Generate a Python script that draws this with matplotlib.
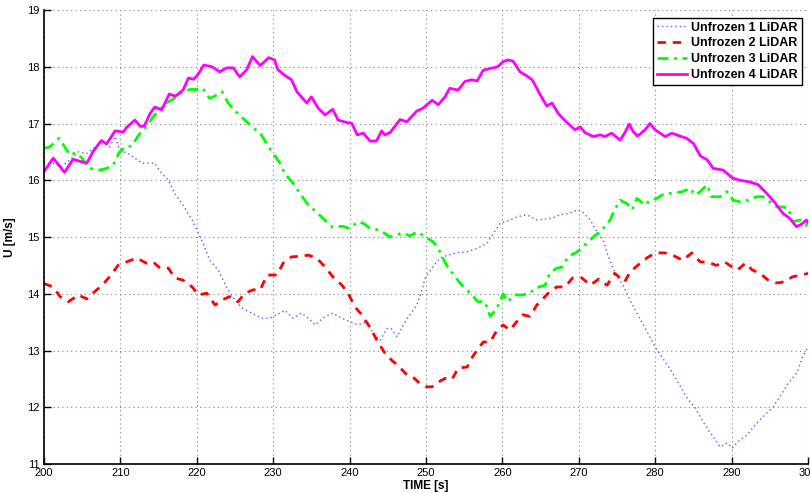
import matplotlib
matplotlib.use("Agg")
import matplotlib.pyplot as plt

plt.rcParams['font.family'] = ['Liberation Sans', 'DejaVu Sans']

# Unfrozen 1 LiDAR (blue, dotted)
t1 = [200, 201.2, 202.3, 203.4, 204.5, 205.6, 206.7, 207.8, 208.6, 209.3, 209.9, 211, 211.9, 212.8,
      213.9, 214.5, 215.4, 216.3, 217.1, 218.2, 219.4, 220.2, 220.8, 221.7, 222.8, 223.9, 224.8,
      225.9, 227.2, 228.5, 229.6, 230.5, 231.5, 232.6, 233.7, 234.6, 235.5, 236.5, 237.8, 239, 240,
      241.1, 242.3, 243.1, 244, 244.9, 245.5, 246.2, 247, 247.9, 248.8, 249.5, 249.9, 250.9, 251.8,
      252.9, 254, 255.4, 256.7, 258, 259.7, 261, 262, 263.2, 264.5, 266.5, 267.5, 268.8, 269.9,
      270.5, 271.5, 272.4, 273.2, 273.8, 274.7, 275.8, 276.7, 277.6, 278.7, 280, 281.3, 282.3,
      283.2, 284.1, 285.2, 285.9, 286.8, 287.6, 288.5, 289.4, 290.1, 290.8, 292, 293.1, 294.1,
      295.4, 296.3, 297.4, 298.6, 299.3, 300]
u1 = [16.3, 16.3, 16.24, 16.36, 16.5, 16.47, 16.59, 16.65, 16.59, 16.77, 16.53, 16.47, 16.39, 16.3,
      16.3, 16.3, 16.12, 16.0, 15.77, 15.56, 15.3, 15.07, 14.9, 14.59, 14.42, 14.12, 13.92,
      13.75, 13.66, 13.57, 13.57, 13.63, 13.71, 13.57, 13.66, 13.57, 13.45, 13.57, 13.66, 13.57, 13.51,
      13.45, 13.51, 13.3, 13.18, 13.39, 13.38, 13.24, 13.45, 13.63, 13.8, 14.07, 14.28, 14.47, 14.63,
      14.68, 14.72, 14.74, 14.8, 14.89, 15.24, 15.3, 15.36, 15.39, 15.3, 15.33, 15.39, 15.42, 15.48,
      15.44, 15.3, 15.09, 14.95, 14.68, 14.38, 14.15, 13.89, 13.66, 13.39, 13.06, 12.8, 12.6,
      12.39, 12.18, 12.0, 11.83, 11.63, 11.48, 11.3, 11.37, 11.28, 11.39, 11.51, 11.69, 11.83,
      12.0, 12.18, 12.42, 12.62, 12.89, 13.06]

# Unfrozen 2 LiDAR (red, dashed)
t2 = [200, 201.2, 202.1, 203.2, 204.5, 205.6, 206.4, 207.6, 208.6, 209.7, 210.8, 212.1, 213.4, 214.3,
      215.2, 216.3, 217.1, 218.2, 219.4, 220.2, 221.3, 222.4, 223.3, 224.3, 225.4, 226.3, 227.4,
      228.3, 229.2, 230.5, 231.3, 232.4, 233.5, 234.6, 235.7, 236.8, 237.8, 239, 239.8, 240.7,
      241.6, 242.7, 243.7, 244.6, 245.5, 246.3, 247.5, 248.3, 249.2, 250.1, 250.8, 251.6, 252.5,
      253.4, 254.2, 255.4, 256, 256.7, 257.5, 258.4, 259.3, 260.1, 261, 261.9, 262.7, 263.6, 264.5,
      266, 267.1, 268.2, 269.2, 270.4, 271.5, 272.6, 273.7, 274.7, 276, 276.7, 277.7, 278.9, 280,
      281.3, 282.3, 283.6, 284.8, 285.9, 286.9, 288, 289.1, 290.1, 290.8, 291.8, 292.7, 293.7,
      294.8, 295.9, 296.9, 298, 299.2, 300]
u2 = [14.18, 14.12, 13.95, 13.86, 13.98, 13.91, 14.01, 14.15, 14.3, 14.5, 14.56, 14.63, 14.54, 14.56,
      14.45, 14.45, 14.28, 14.24, 14.12, 13.98, 14.01, 13.8, 13.89, 13.95, 13.86, 14.01, 14.07,
      14.07, 14.33, 14.33, 14.54, 14.65, 14.66, 14.68, 14.63, 14.47, 14.3, 14.15, 14.01, 13.77,
      13.63, 13.4, 13.15, 12.96, 12.83, 12.74, 12.57, 12.53, 12.42, 12.36, 12.36, 12.44, 12.51,
      12.49, 12.69, 12.71, 12.87, 13.01, 13.15, 13.15, 13.36, 13.45, 13.36, 13.51, 13.63, 13.6, 13.8,
      14.01, 14.12, 14.12, 14.28, 14.28, 14.15, 14.26, 14.15, 14.36, 14.21, 14.38, 14.5, 14.63, 14.72,
      14.72, 14.68, 14.59, 14.72, 14.56, 14.56, 14.5, 14.56, 14.47, 14.42, 14.54, 14.42, 14.36,
      14.24, 14.19, 14.21, 14.3, 14.33, 14.36]

# Unfrozen 3 LiDAR (green, dash-dot)
t3 = [200, 200.8, 202, 202.7, 203.4, 204.1, 205, 205.9, 207.3, 208.2, 209.1, 209.8, 210.6, 211.5,
      212.4, 213.4, 214.3, 215.1, 216, 217, 218, 219.1, 220, 220.8, 221.7, 222.6, 223.3, 224.1,
      225.2, 226.3, 227.4, 228.3, 229.4, 230.9, 231.5, 232.6, 233.5, 234.6, 235.5, 236.5, 237.8,
      239.1, 240, 241.1, 241.8, 242.7, 244, 245.3, 246.9, 247.9, 248.9, 249.9, 250.9, 251.6, 252.7,
      253.8, 254.7, 255.8, 256.8, 257.7, 258.4, 259.3, 260.1, 260.7, 261.6, 262.7, 263.6, 264.3,
      265.6, 266.2, 267.1, 267.8, 268.6, 269.8, 270.5, 271.9, 273, 274.1, 274.7, 275.4, 276.3, 277,
      277.6, 278.7, 279.3, 280.2, 281.3, 282.3, 283.6, 284.6, 285.2, 285.9, 286.8, 287.4, 288.5,
      289.4, 290.2, 291.1, 292.2, 293.3, 294.1, 295, 295.9, 296.7, 297.4, 298, 299, 300]
u3 = [16.56, 16.59, 16.74, 16.59, 16.44, 16.48, 16.39, 16.21, 16.18, 16.21, 16.27, 16.48, 16.59, 16.6,
      16.8, 16.94, 17.12, 17.24, 17.36, 17.44, 17.54, 17.6, 17.6, 17.62, 17.44, 17.5, 17.56, 17.36,
      17.2, 17.06, 16.92, 16.83, 16.59, 16.3, 16.12, 15.95, 15.77, 15.56, 15.46, 15.33, 15.17,
      15.19, 15.15, 15.27, 15.24, 15.15, 15.12, 15.0, 15.07, 15.02, 15.09, 15.0, 14.92, 14.8, 14.5,
      14.3, 14.15, 14.01, 13.86, 13.86, 13.6, 13.75, 14.0, 13.86, 13.98, 13.98, 14.01, 14.1,
      14.15, 14.36, 14.45, 14.47, 14.65, 14.74, 14.82, 15.0, 15.12, 15.3, 15.48, 15.65, 15.59, 15.48,
      15.68, 15.56, 15.65, 15.68, 15.77, 15.77, 15.8, 15.86, 15.74, 15.8, 15.92, 15.71, 15.71,
      15.8, 15.65, 15.62, 15.65, 15.71, 15.71, 15.62, 15.53, 15.53, 15.51, 15.27, 15.3, 15.18]

# Unfrozen 4 LiDAR (magenta, solid)
t4 = [200, 201.2, 202.7, 203.8, 205.6, 206.4, 207.5, 208.2, 209.3, 210.4, 210.8, 211.9, 212.6, 213.1,
      213.9, 214.5, 215.4, 216.4, 217.2, 218.2, 218.9, 219.6, 220.2, 220.9, 222, 223, 223.9, 224.8,
      225.6, 226.5, 227.3, 228.3, 229.4, 230.2, 230.6, 231.5, 232.4, 233.1, 234.4, 235, 235.9, 236.8,
      237.8, 238.5, 239.6, 240.3, 241, 241.8, 242.7, 243.5, 244.2, 244.6, 245.3, 246.6, 247.5,
      248.8, 249.6, 250.8, 251.6, 252.5, 253.1, 254.2, 255.1, 256, 256.7, 257.5, 258.4, 259.4,
      260.1, 260.7, 261.4, 262.3, 263.2, 263.9, 264.9, 265.8, 266.5, 267.3, 267.9, 268.6, 269.5,
      270.2, 270.8, 271.9, 272.8, 273.4, 274.3, 275.4, 276, 276.6, 277.1, 277.7, 278.7, 279.3, 280,
      281.3, 282.2, 283.2, 284.1, 285, 285.9, 286.8, 287.6, 288.9, 290.1, 291.1, 292.4, 293.5,
      294.6, 295.7, 296.7, 297.6, 298.5, 299.2, 299.8, 300]
u4 = [16.15, 16.39, 16.14, 16.37, 16.3, 16.5, 16.7, 16.64, 16.87, 16.85, 16.93, 17.06, 16.95, 16.95,
      17.18, 17.29, 17.24, 17.52, 17.48, 17.59, 17.8, 17.78, 17.87, 18.03, 18.0, 17.91, 17.98, 17.98,
      17.82, 17.94, 18.18, 18.02, 18.16, 18.12, 17.95, 17.85, 17.77, 17.56, 17.36, 17.47, 17.27, 17.15,
      17.25, 17.06, 17.02, 17.0, 16.8, 16.83, 16.69, 16.69, 16.87, 16.8, 16.84, 17.07, 17.03,
      17.22, 17.27, 17.41, 17.33, 17.47, 17.62, 17.59, 17.74, 17.77, 17.75, 17.94, 17.97, 18.0,
      18.09, 18.12, 18.1, 17.91, 17.84, 17.77, 17.52, 17.31, 17.36, 17.18, 17.09, 17.0, 16.89,
      16.94, 16.84, 16.77, 16.8, 16.77, 16.83, 16.71, 16.83, 16.99, 16.86, 16.78, 16.89, 17.0, 16.89,
      16.77, 16.83, 16.78, 16.74, 16.65, 16.43, 16.36, 16.21, 16.18, 16.04, 16.0, 15.97, 15.92,
      15.77, 15.6, 15.42, 15.33, 15.18, 15.23, 15.3, 15.25]

series_labels = ['Unfrozen 1 LiDAR', 'Unfrozen 2 LiDAR', 'Unfrozen 3 LiDAR', 'Unfrozen 4 LiDAR']
x_ticks = list(range(200, 301, 10))
y_ticks = list(range(11, 20))

fig = plt.figure(figsize=(8.1, 4.93), dpi=100)
ax = fig.add_axes([0.0543, 0.0588, 0.9432, 0.9209])

ax.plot(t1, u1, color=(0.35, 0.35, 1.0), linestyle=(0, (1, 2.2)), linewidth=1.0, label=series_labels[0])
ax.plot(t2, u2, color='#ff0000', linestyle=(0, (3, 2.5)), linewidth=2.0, label=series_labels[1])
ax.plot(t3, u3, color='#00ff00', linestyle=(0, (4, 2, 1, 2)), linewidth=2.0, label=series_labels[2])
ax.plot(t4, u4, color='#ff00ff', linestyle='-', linewidth=2.0, label=series_labels[3])

ax.set_xlim(200, 300)
ax.set_ylim(11, 19)
ax.set_xticks(x_ticks)
ax.set_yticks(y_ticks)
ax.tick_params(direction='in', length=5, width=1, labelsize=8, pad=3)
ax.grid(True, linestyle=(0, (1, 3)), color='#808080', linewidth=0.8)

for side in ('top', 'right'):
    ax.spines[side].set_visible(False)
for side in ('left', 'bottom'):
    ax.spines[side].set_linewidth(1.2)

ax.set_xlabel('TIME [s]', fontsize=8.5, fontweight='bold', labelpad=1)
ax.set_ylabel('U [m/s]', fontsize=8.5, fontweight='bold', labelpad=8)

leg = ax.legend(loc='upper right', bbox_to_anchor=(0.995, 0.988), fancybox=False, framealpha=1,
                edgecolor='black', prop={'weight': 'bold', 'size': 9}, handlelength=2.4,
                handletextpad=0.35, borderpad=0.3, labelspacing=0.3, borderaxespad=0.2)
leg.get_frame().set_linewidth(1.0)

fig.savefig('out.png', dpi=100)
